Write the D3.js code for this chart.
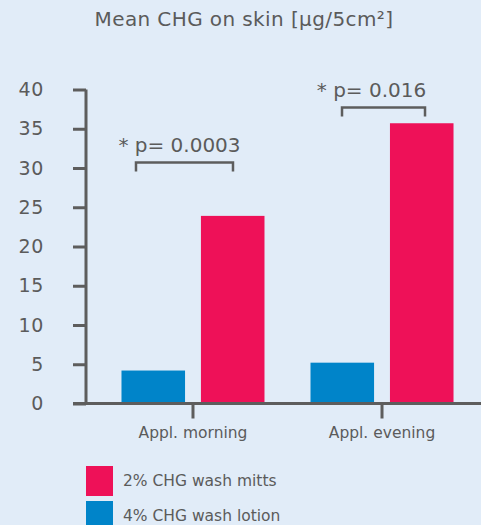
<!DOCTYPE html>
<html>
<head>
<meta charset="utf-8">
<script src="https://cdn.jsdelivr.net/npm/d3@7"></script>
<style>
  body { margin: 0; background: #e1ecf8; }
  svg { display: block; font-family: "DejaVu Sans", sans-serif; }
</style>
</head>
<body>
<div id="chart"></div>
<script>
var categories = ["Appl. morning", "Appl. evening"];
var seriesNames = ["4% CHG wash lotion", "2% CHG wash mitts"];
var lotionValues = [4.2, 5.2];
var mittsValues = [23.9, 35.7];
var yTicks = [0, 5, 10, 15, 20, 25, 30, 35, 40];
var pLabels = ["* p= 0.0003", "* p= 0.016"];
var pLevels = [30.7, 37.7];
var legendOrder = ["2% CHG wash mitts", "4% CHG wash lotion"];

var width = 481, height = 525;
var font = "DejaVu Sans, sans-serif";
var textColor = "#5b5b5b";
var axisColor = "#5d5d5d";
var z = d3.scaleOrdinal().domain(seriesNames).range(["#0084c9", "#ee1158"]);

var svg = d3.select("#chart").append("svg")
    .attr("width", width)
    .attr("height", height);

svg.append("rect").attr("width", width).attr("height", height).attr("fill", "#e1ecf8");

var y = d3.scaleLinear().domain([0, 40]).range([403.5, 89.5]);
var x = d3.scaleBand().domain(categories).range([86, 489]).paddingOuter(0.066).paddingInner(0);
var xs = d3.scaleBand().domain(seriesNames).range([-71.5, 71.5]).paddingInner(0.2);

var data = categories.map((c, i) => ({cat: c, values: [lotionValues[i], mittsValues[i]]}));

// title
svg.append("text")
    .attr("x", 244).attr("y", 26)
    .attr("text-anchor", "middle")
    .attr("font-size", 20)
    .attr("letter-spacing", 0.4)
    .attr("fill", textColor)
    .text("Mean CHG on skin [µg/5cm²]");

// bars
var groups = svg.selectAll(".grp").data(data).enter().append("g")
    .attr("transform", d => "translate(" + (x(d.cat) + x.bandwidth() / 2) + ",0)");

groups.selectAll("rect").data(d => d.values.map((v, k) => ({key: seriesNames[k], value: v})))
    .enter().append("rect")
    .attr("x", d => xs(d.key))
    .attr("width", xs.bandwidth())
    .attr("y", d => y(d.value))
    .attr("height", d => y(0) - y(d.value))
    .attr("fill", d => z(d.key));

// y axis
var yAxis = svg.append("g")
    .attr("transform", "translate(86,0)")
    .call(d3.axisLeft(y).tickValues(yTicks).tickSize(13).tickPadding(29));
yAxis.select(".domain").attr("stroke", axisColor).attr("stroke-width", 3)
    .attr("d", "M0," + y(40) + "V" + y(0));
yAxis.selectAll(".tick line").attr("stroke", axisColor).attr("stroke-width", 3);
yAxis.selectAll(".tick text").attr("fill", textColor).attr("font-size", 19)
    .attr("letter-spacing", 0.6)
    .attr("font-family", font).attr("text-anchor", "end");

// x axis
var xAxis = svg.append("g")
    .attr("transform", "translate(0," + y(0) + ")")
    .call(d3.axisBottom(x).tickSize(15).tickPadding(8));
xAxis.select(".domain").attr("stroke", axisColor).attr("stroke-width", 3)
    .attr("d", "M73,0H481");
xAxis.selectAll(".tick line").attr("stroke", axisColor).attr("stroke-width", 3);
xAxis.selectAll(".tick text").attr("fill", textColor).attr("font-size", 15.5)
    .attr("font-family", font);

// significance brackets
var ann = svg.selectAll(".ann").data(data).enter().append("g")
    .attr("transform", d => "translate(" + (x(d.cat) + x.bandwidth() / 2) + ",0)");
var bw = [[-57, 40], [-40, 43]];
var textShift = [-5, -12];
ann.append("path")
    .attr("fill", "none").attr("stroke", axisColor).attr("stroke-width", 2.5)
    .attr("d", (d, i) => {
        var yy = y(pLevels[i]);
        return "M" + bw[i][0] + "," + (yy + 9) + "V" + yy + "H" + bw[i][1] + "V" + (yy + 9);
    });
ann.append("text")
    .attr("x", (d, i) => (bw[i][0] + bw[i][1]) / 2 + textShift[i])
    .attr("y", (d, i) => y(pLevels[i]) - 11)
    .attr("text-anchor", "middle")
    .attr("font-size", 20)
    .attr("fill", textColor)
    .text((d, i) => pLabels[i]);

// legend
var legend = svg.selectAll(".leg").data(legendOrder).enter().append("g")
    .attr("transform", (d, i) => "translate(86," + (466 + i * 35) + ")");
legend.append("rect").attr("width", 27).attr("height", 30).attr("fill", d => z(d));
legend.append("text").attr("x", 37).attr("y", 20)
    .attr("font-size", 15.5).attr("fill", textColor).text(d => d);
</script>
</body>
</html>
